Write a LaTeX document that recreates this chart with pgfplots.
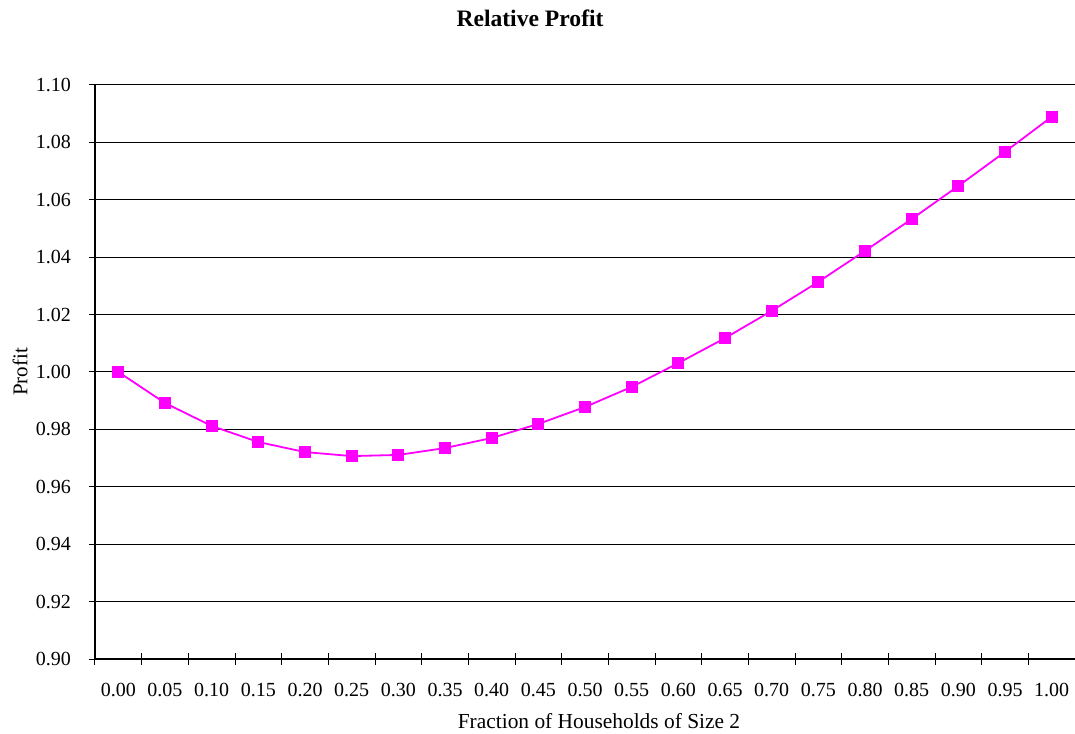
\documentclass[border=0pt]{standalone}
\usepackage{pgfplots}
\pgfplotsset{compat=1.18}
\usepackage{fontspec}
\setmainfont{Liberation Serif}
\definecolor{pinkline}{RGB}{255,0,255}
\begin{document}
\begin{tikzpicture}
  \useasboundingbox (-47.5pt,-37pt) rectangle (490pt,329.5pt);
  \begin{axis}[
      name=ax,
      at={(0,0)}, anchor=south west,
      scale only axis,
      width=490pt, height=287pt,
      xmin=-0.5, xmax=20.5,
      ymin=0.90, ymax=1.10,
      axis x line*=bottom,
      axis y line*=left,
      axis line style={-, black, line width=0.6pt},
      xtick={0,...,20},
      xticklabels={0.00,0.05,0.10,0.15,0.20,0.25,0.30,0.35,0.40,0.45,0.50,
                   0.55,0.60,0.65,0.70,0.75,0.80,0.85,0.90,0.95,1.00},
      major x tick style={draw=none},
      minor xtick={-0.5,0.5,...,20.5},
      minor tick length=6pt,
      ytick={0.90,0.92,...,1.101},
      major tick length=6pt,
      tick align=center,
      tick style={black, line width=0.5pt},
      ymajorgrids,
      grid style={black, line width=0.5pt},
      yticklabel style={
        /pgf/number format/.cd,
        fixed,
        fixed zerofill,
        precision=2,
        assume math mode=true,
        /tikz/.cd,
        xshift=-5.5pt
      },
      xticklabel style={yshift=-5.5pt},
      clip=false
    ]
    \addplot[color=pinkline, line width=0.9pt,
             mark=square*, mark size=2.5pt,
             mark options={fill=pinkline, draw=pinkline}] coordinates {
      (0,1.0000)
      (1,0.9892)
      (2,0.9812)
      (3,0.9756)
      (4,0.9721)
      (5,0.9707)
      (6,0.9711)
      (7,0.9735)
      (8,0.9770)
      (9,0.9819)
      (10,0.9878)
      (11,0.9948)
      (12,1.0031)
      (13,1.0118)
      (14,1.0213)
      (15,1.0314)
      (16,1.0422)
      (17,1.0533)
      (18,1.0648)
      (19,1.0767)
      (20,1.0889)
    };
  \end{axis}
  \node[font=\fontsize{11.8}{14}\selectfont\bfseries] at (217.5pt,320.5pt) {Relative Profit};
  \node[rotate=90, font=\fontsize{10.5}{12}\selectfont] at (-37.5pt,143.5pt) {Profit};
  \node[inner sep=0.5pt, font=\fontsize{10.7}{13}\selectfont] at (252pt,-31pt) {Fraction of Households of Size 2};
\end{tikzpicture}
\end{document}
